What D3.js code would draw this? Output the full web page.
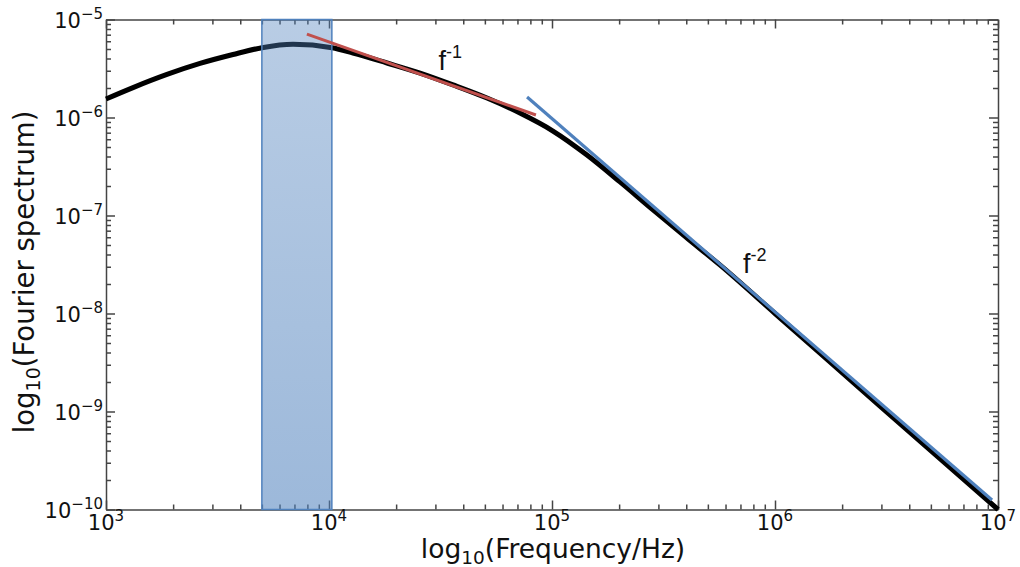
<!DOCTYPE html>
<html lang="en">
<head>
  <meta charset="UTF-8">
  <title>Fourier spectrum</title>
  <script src="https://cdnjs.cloudflare.com/ajax/libs/d3/7.8.5/d3.min.js"></script>
  <style>
    body { margin: 0; background: #fff; }
    .axis path,
    .axis line {
      fill: none;
      stroke: #444;
      stroke-width: 1.5;
    }
    .tick-label, .axis-title {
      font-family: "DejaVu Sans", sans-serif;
      fill: #111;
    }
    .slope-label {
      font-family: "Liberation Sans", Arial, sans-serif;
      fill: #111;
    }
  </style>
</head>
<body>
<svg width="1020" height="567"></svg>

<script>
  // spectrum (Hz, amplitude)
  const freq = [1000, 1322, 1877, 2640, 3711, 5006, 6896, 10316, 12810, 18200, 25600,
                36000, 51100, 71800, 101000, 143500, 201800, 283800, 403000, 566000,
                1000000, 3000000, 10000000];
  const spectrum = [1.545e-6, 2.02e-6, 2.75e-6, 3.56e-6, 4.39e-6, 5.15e-6, 5.58e-6, 5.15e-6,
                    4.55e-6, 3.6e-6, 2.84e-6, 2.15e-6, 1.58e-6, 1.11e-6, 7.28e-7, 4.14e-7,
                    2.2e-7, 1.14e-7, 5.89e-8, 3.13e-8, 1.0e-8, 1.1e-9, 1.0e-10];

  // fitted slopes
  const fitLowF = [7960, 84700];
  const fitLowS = [7.1e-6, 1.06e-6];
  const fitHighF = [77300, 9.4e6];
  const fitHighS = [1.62e-6, 1.25e-10];

  // shaded band
  const bandF = [5000, 10300];

  const xTickExp = [3, 4, 5, 6, 7];
  const yTickExp = [-5, -6, -7, -8, -9, -10];

  const margin = { top: 19.5, right: 22, bottom: 57.5, left: 106 };
  const svg = d3.select('svg');
  const width = +svg.attr('width') - margin.left - margin.right;
  const height = +svg.attr('height') - margin.top - margin.bottom;

  const x = d3.scaleLog().domain([1e3, 1e7]).range([0, width]);
  const y = d3.scaleLog().domain([1e-10, 1e-5]).range([height, 0]);

  const g = svg.append('g').attr('transform', `translate(${margin.left},${margin.top})`);

  // gradient for the band
  const defs = svg.append('defs');
  const grad = defs.append('linearGradient')
    .attr('id', 'bandGrad').attr('x1', 0).attr('y1', 0).attr('x2', 0).attr('y2', 1);
  grad.append('stop').attr('offset', '0%').attr('stop-color', '#4f81bd').attr('stop-opacity', 0.4);
  grad.append('stop').attr('offset', '100%').attr('stop-color', '#4f81bd').attr('stop-opacity', 0.56);

  // minor tick values
  function minors(lo, hi) {
    const out = [];
    for (let e = lo; e < hi; e++) {
      for (let m = 2; m <= 9; m++) out.push(m * Math.pow(10, e));
    }
    return out;
  }
  const xMajor = xTickExp.map(e => Math.pow(10, e));
  const yMajor = yTickExp.map(e => Math.pow(10, e));
  const xMinor = minors(3, 7);
  const yMinor = minors(-10, -5);

  const majorLen = 9, minorLen = 5;

  function drawAxis(axisFn, scale, transform, majors, minorVals) {
    // negative size so the ticks point into the plot
    g.append('g').attr('class', 'axis').attr('transform', transform)
      .call(axisFn(scale).tickValues(majors).tickSizeInner(-majorLen).tickSizeOuter(0).tickFormat(''));
    const mg = g.append('g').attr('class', 'axis').attr('transform', transform)
      .call(axisFn(scale).tickValues(minorVals).tickSizeInner(-minorLen).tickSizeOuter(0).tickFormat(''));
    mg.select('.domain').remove();
  }
  drawAxis(d3.axisBottom, x, `translate(0,${height})`, xMajor, xMinor);
  drawAxis(d3.axisTop, x, 'translate(0,0)', xMajor, xMinor);
  drawAxis(d3.axisLeft, y, 'translate(0,0)', yMajor, yMinor);
  drawAxis(d3.axisRight, y, `translate(${width},0)`, yMajor, yMinor);

  // spectrum curve
  const line = d3.line()
    .x((d, i) => x(freq[i]))
    .y(d => y(d))
    .curve(d3.curveMonotoneX);

  g.append('path')
    .datum(spectrum)
    .attr('d', line)
    .attr('fill', 'none')
    .attr('stroke', '#000')
    .attr('stroke-width', 5)
    .attr('stroke-linejoin', 'round');

  // shaded band
  g.append('rect')
    .attr('x', x(bandF[0]))
    .attr('y', 0)
    .attr('width', x(bandF[1]) - x(bandF[0]))
    .attr('height', height)
    .attr('fill', 'url(#bandGrad)')
    .attr('stroke', '#4f81bd')
    .attr('stroke-width', 1.5);

  // slope lines
  const segLine = d3.line().x(d => x(d[0])).y(d => y(d[1]));
  g.append('path')
    .attr('d', segLine(fitLowF.map((f, i) => [f, fitLowS[i]])))
    .attr('stroke', '#c0504d').attr('stroke-width', 3).attr('fill', 'none');
  g.append('path')
    .attr('d', segLine(fitHighF.map((f, i) => [f, fitHighS[i]])))
    .attr('stroke', '#4f81bd').attr('stroke-width', 3.2).attr('fill', 'none');

  // slope labels
  function slopeLabel(px, py, sup) {
    const t = g.append('text').attr('class', 'slope-label')
      .attr('x', px).attr('y', py).style('font-size', '27px');
    t.append('tspan').text('f');
    t.append('tspan').text(sup).style('font-size', '18px').attr('dy', -12);
  }
  slopeLabel(x(3.1e4), y(3.05e-6), '-1');
  slopeLabel(x(7.18e5), y(2.59e-8), '-2');

  // tick labels with superscripts
  xTickExp.forEach(e => {
    const t = g.append('text').attr('class', 'tick-label')
      .attr('x', x(Math.pow(10, e))).attr('y', height + 20)
      .attr('text-anchor', 'middle')
      .style('font-size', '21px');
    t.append('tspan').text('10');
    t.append('tspan').text(String(e)).style('font-size', '15px').attr('dy', -9);
  });
  yTickExp.forEach(e => {
    const t = g.append('text').attr('class', 'tick-label')
      .attr('x', -3).attr('y', y(Math.pow(10, e)) + 8)
      .attr('text-anchor', 'end')
      .style('font-size', '21px');
    t.append('tspan').text('10');
    t.append('tspan').text('\u2212' + Math.abs(e)).style('font-size', '15px').attr('dy', -9);
  });

  // axis titles
  const xt = svg.append('text').attr('class', 'axis-title')
    .attr('x', 553).attr('y', 558)
    .attr('text-anchor', 'middle').style('font-size', '26.5px');
  xt.append('tspan').text('log');
  xt.append('tspan').text('10').style('font-size', '18.5px').attr('dy', 6);
  xt.append('tspan').text('(Frequency/Hz)').attr('dy', -6);

  const yt = svg.append('text').attr('class', 'axis-title')
    .attr('transform', `translate(34,272) rotate(-90)`)
    .attr('text-anchor', 'middle').style('font-size', '27.5px');
  yt.append('tspan').text('log');
  yt.append('tspan').text('10').style('font-size', '19px').attr('dy', 6);
  yt.append('tspan').text('(Fourier spectrum)').attr('dy', -6);
</script>
</body>
</html>
